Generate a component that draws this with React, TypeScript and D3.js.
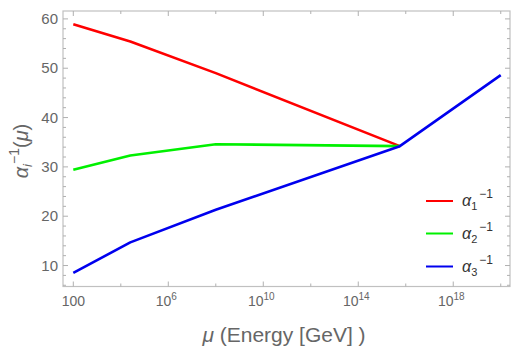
import { useEffect, useRef } from "react";
import * as d3 from "d3";

// log10 of energy in GeV at the kinks
const energyExp = [2, 4.4, 8, 15.75, 20];
const alpha1 = [58.9, 55.4, 49.0, 34.2];
const alpha2 = [29.4, 32.3, 34.6, 34.2];
const alpha3 = [8.5, 14.7, 21.3, 34.2, 48.6];
const seriesNames = ["1", "2", "3"];
const seriesColors = ["#ff0000", "#00f000", "#0000ee"];
const xMajorExp = [2, 6, 10, 14, 18];
const xMinorExp = [4, 8, 12, 16, 20];
const yMajor = [10, 20, 30, 40, 50, 60];

const W = 523;
const H = 353;

export default function App() {
  const svgRef = useRef<SVGSVGElement>(null);

  useEffect(() => {
    const svg = d3.select(svgRef.current);
    svg.selectAll("*").remove();

    const left = 63, right = 510, top = 11, bottom = 286.5;
    const x = d3.scaleLog().domain([Math.pow(10, 1.566), Math.pow(10, 20.39)]).range([left, right]);
    const y = d3.scaleLinear().domain([5.75, 61.6]).range([bottom, top]);

    const font = "'Liberation Sans', Arial, sans-serif";
    const tickCol = "#b0b0b0";
    const labelCol = "#666";

    // frame
    svg.append("rect")
      .attr("x", left).attr("y", top)
      .attr("width", right - left).attr("height", bottom - top)
      .attr("fill", "none").attr("stroke", "#c0c0c0").attr("stroke-width", 1.2);

    const g = svg.append("g");
    // x ticks (bottom + top)
    const xTicks = [...xMajorExp.map(e => ({ e, major: true })), ...xMinorExp.map(e => ({ e, major: false }))];
    xTicks.forEach(t => {
      const px = x(Math.pow(10, t.e));
      const len = t.major ? 5 : 3;
      g.append("line").attr("x1", px).attr("x2", px).attr("y1", bottom).attr("y2", bottom - len)
        .attr("stroke", tickCol);
      g.append("line").attr("x1", px).attr("x2", px).attr("y1", top).attr("y2", top + len)
        .attr("stroke", tickCol);
    });

    // y ticks (left + right)
    const yTicks = d3.range(6, 61, 2);
    yTicks.forEach(v => {
      const py = y(v);
      const len = v % 10 === 0 ? 5 : 3;
      g.append("line").attr("x1", left).attr("x2", left + len).attr("y1", py).attr("y2", py)
        .attr("stroke", tickCol);
      g.append("line").attr("x1", right).attr("x2", right - len).attr("y1", py).attr("y2", py)
        .attr("stroke", tickCol);
    });

    // y tick labels
    yMajor.forEach(v => {
      svg.append("text")
        .attr("x", 58).attr("y", y(v) + 5)
        .attr("text-anchor", "end")
        .attr("font-family", font).attr("font-size", 15)
        .attr("fill", labelCol)
        .text(v);
    });

    // x tick labels
    xMajorExp.forEach(e => {
      const px = x(Math.pow(10, e));
      if (e === 2) {
        svg.append("text")
          .attr("x", px).attr("y", 306)
          .attr("text-anchor", "middle")
          .attr("font-family", font).attr("font-size", 14)
          .attr("fill", labelCol)
          .text("100");
      } else {
        const t = svg.append("text")
          .attr("x", px - 2).attr("y", 306)
          .attr("text-anchor", "middle")
          .attr("font-family", font).attr("font-size", 14)
          .attr("fill", labelCol);
        t.append("tspan").text("10");
        t.append("tspan").attr("dy", -6).attr("font-size", 10).text(String(e));
      }
    });

    // lines
    const line = d3.line<[number, number]>()
      .x(d => x(Math.pow(10, d[0])))
      .y(d => y(d[1]));

    const allSeries = [alpha1, alpha2, alpha3];
    allSeries.forEach((vals, i) => {
      const pts = vals.map((v, j) => [energyExp[j], v] as [number, number]);
      svg.append("path")
        .attr("d", line(pts))
        .attr("fill", "none")
        .attr("stroke", seriesColors[i])
        .attr("stroke-width", 2.6)
        .attr("stroke-linejoin", "round");
    });

    // legend
    const legY = [201, 233.5, 266.5];
    seriesNames.forEach((n, i) => {
      svg.append("line")
        .attr("x1", 426).attr("x2", 453)
        .attr("y1", legY[i]).attr("y2", legY[i])
        .attr("stroke", seriesColors[i]).attr("stroke-width", 2);
      const t = svg.append("text")
        .attr("x", 462).attr("y", legY[i] + 5)
        .attr("font-family", font).attr("font-size", 16)
        .attr("fill", "#333");
      t.append("tspan").attr("font-style", "italic").text("α");
      t.append("tspan").attr("font-size", 11).attr("dy", 4).text(n);
      t.append("tspan").attr("font-size", 12).attr("dy", -12).attr("dx", 2).text("−1");
    });

    // y axis label
    const yl = svg.append("text")
      .attr("transform", `translate(28, 151) rotate(-90)`)
      .attr("text-anchor", "middle")
      .attr("font-family", font).attr("font-size", 20)
      .attr("fill", labelCol);
    yl.append("tspan").attr("font-style", "italic").text("α");
    yl.append("tspan").attr("font-style", "italic").attr("font-size", 13).attr("dy", 4).text("i");
    yl.append("tspan").attr("font-size", 14).attr("dy", -13).text("−1");
    yl.append("tspan").attr("dy", 9).text("(");
    yl.append("tspan").attr("font-style", "italic").text("μ");
    yl.append("tspan").text(")");

    // x axis label
    const xl = svg.append("text")
      .attr("x", 284).attr("y", 342)
      .attr("text-anchor", "middle")
      .attr("font-family", font).attr("font-size", 21)
      .attr("fill", labelCol);
    xl.append("tspan").attr("font-style", "italic").text("μ");
    xl.append("tspan").text(" (Energy [GeV] )");
  }, []);

  return (
    <div style={{ position: "absolute", left: 0, top: 0 }}>
      <svg ref={svgRef} width={W} height={H} style={{ display: "block", background: "#fff" }} />
    </div>
  );
}
